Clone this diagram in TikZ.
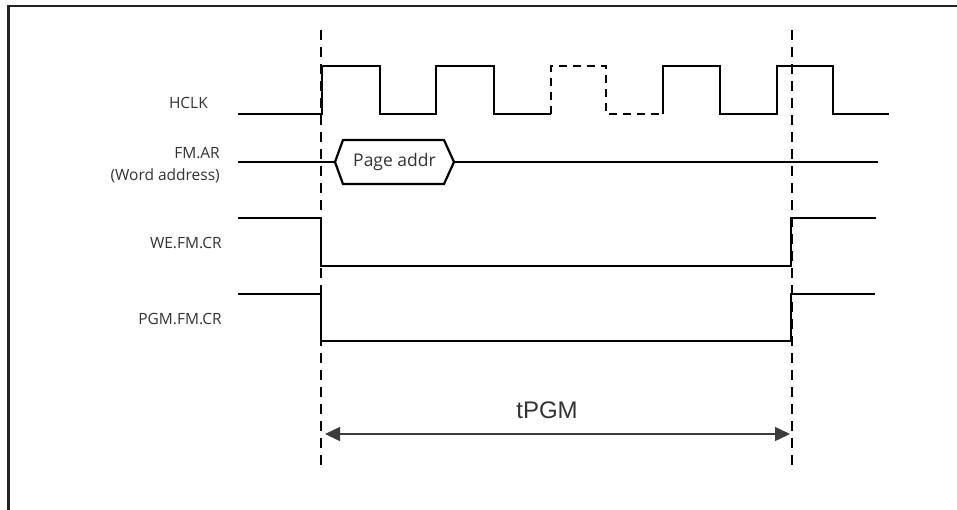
\documentclass[tikz,border=0pt]{standalone}
\usepackage{fontspec}
\setmainfont{Open Sans}
\newfontfamily\arialfont{Liberation Sans}
\usetikzlibrary{arrows.meta}
\definecolor{lbl}{RGB}{50,50,50}
\definecolor{frm}{RGB}{35,35,35}
\definecolor{arr}{RGB}{60,60,60}
\begin{document}
\begin{tikzpicture}[x=1pt,y=-1pt,
  sig/.style={line width=2.2pt, black, line join=miter},
  dsig/.style={sig, dash pattern=on 8pt off 6pt},
  guide/.style={line width=2.2pt, black, dash pattern=on 10pt off 7pt},
  lab/.style={font=\fontsize{15.5}{18}\selectfont, text=lbl, anchor=east, inner sep=0pt},
  boxtext/.style={font=\fontsize{17.5}{20}\selectfont, text=lbl, inner sep=0pt},
  dimarrow/.style={line width=1.5pt, arr, {Triangle[length=15pt,width=14pt]}-{Triangle[length=15pt,width=14pt]}}]
\useasboundingbox (0,0) rectangle (957,509);
% frame (cropped at right and bottom)
\draw[line width=2.5pt, frm] (8.5,520) -- (8.5,6) -- (970,6);

% guides
\coordinate (g1t) at (321,30);
\coordinate (g1b) at (321,470);
\coordinate (g2t) at (792,30);
\coordinate (g2b) at (792,470);
\draw[guide] (g1t) -- (g1b);
\draw[guide] (g2t) -- (g2b);

% labels
\node[lab] (hclk) at (208,103) {HCLK};
\node[lab] (fmar) at (220,153) {FM.AR};
\node[lab] (word) at (220,176) {(Word address)};
\node[lab] (we) at (222,243) {WE.FM.CR};
\node[lab] (pgm) at (222,319) {PGM.FM.CR};

% HCLK
\draw[sig] (238,114) -- (322,114) -- (322,66) -- (380,66) -- (380,114) -- (436,114) -- (436,66) -- (494,66) -- (494,114) -- (551,114);
\draw[dsig] (551,114) -- (551,66) -- (606,66) -- (606,114) -- (663,114);
\draw[sig] (663,114) -- (663,66) -- (720,66) -- (720,114) -- (777,114) -- (777,66) -- (833,66) -- (833,114) -- (889,114);

% FM.AR
\coordinate (hl) at (335,162);
\coordinate (hr) at (454,162);
\node[boxtext] (page) at (394.5,162) {Page addr};
\draw[sig] (238,162) -- (hl);
\draw[sig] (hl) -- (343,140) -- (444,140) -- (hr) -- (444,184) -- (343,184) -- cycle;
\draw[sig] (hr) -- (878,162);

% WE.FM.CR
\draw[sig] (238,218) -- (321,218) -- (321,266) -- (791,266) -- (791,218) -- (876,218);
% PGM.FM.CR
\draw[sig] (238,294) -- (321,294) -- (321,341) -- (791,341) -- (791,294) -- (875,294);

% tPGM
\coordinate (a1) at (325,434);
\coordinate (a2) at (790,434);
\draw[dimarrow] (a1) -- (a2);
\node[font=\arialfont\fontsize{24}{28}\selectfont, text=lbl, inner sep=0pt] (tpgm) at (547,410.5) {tPGM};
\end{tikzpicture}
\end{document}
